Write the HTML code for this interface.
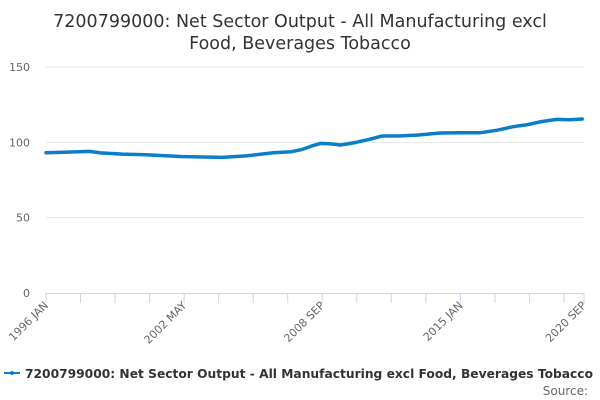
<!DOCTYPE html>
<html><head><meta charset="utf-8"><style>
body{margin:0;background:#fff;font-family:"DejaVu Sans","Liberation Sans",sans-serif;}
svg{display:block}
</style></head><body>
<svg id="c" width="600" height="400">
<text x="300" y="27" text-anchor="middle" font-size="17.5" fill="#333">7200799000: Net Sector Output - All Manufacturing excl</text>
<text x="300" y="49" text-anchor="middle" font-size="17.5" fill="#333">Food, Beverages Tobacco</text>
<g id="grid"></g><g id="xaxis"></g><g id="plot"></g>
<g>
<line x1="4" y1="373" x2="20" y2="373" stroke="#0a7ec8" stroke-width="2"/>
<circle cx="12" cy="373" r="2" fill="#0a7ec8"/>
<text x="25" y="378" font-size="12.5" font-weight="bold" fill="#333" textLength="568" lengthAdjust="spacingAndGlyphs">7200799000: Net Sector Output - All Manufacturing excl Food, Beverages Tobacco</text>
</g>
<text x="588" y="395" text-anchor="end" font-size="12" fill="#666">Source:</text>
</svg>
<script>
const monthIdx=[0,10,24,30,42,55,74,97,110,125,135,141,146,151,156,162,170,178,185,195,204,217,228,239,248,257,265,273,281,288,295];
const values=[93.1,93.4,94.0,93.0,92.2,91.8,90.6,90.0,91.0,93.1,93.8,95.3,97.5,99.3,99.0,98.2,99.8,102.0,104.2,104.3,104.8,106.2,106.4,106.4,108.0,110.4,111.8,113.8,115.2,115.0,115.5];
const yTicks=[0,50,100,150];
const xLabels=["1996 JAN","2002 MAY","2008 SEP","2015 JAN","2020 SEP"];
const xLabelIdx=[0,76,152,228,296];
const L=46,R=584,T=67,B=293,XMAX=296,YMAX=150;
const sx=i=>L+i/XMAX*(R-L), sy=v=>B-v/YMAX*(B-T);
const NS="http://www.w3.org/2000/svg";
function mk(t,a,p){const e=document.createElementNS(NS,t);for(const k in a)e.setAttribute(k,a[k]);p.appendChild(e);return e;}
const grid=document.getElementById('grid'),xa=document.getElementById('xaxis'),plot=document.getElementById('plot');
yTicks.forEach(v=>{
 if(v>0){const g=mk('line',{x1:L,x2:R,y1:sy(v),y2:sy(v),stroke:'#e6e6e6','stroke-width':1},grid);
 
 }
 const t=mk('text',{x:30,y:sy(v)+4,'text-anchor':'end','font-size':11,fill:'#666'},grid);t.textContent=v;
 
 
});
const ax=mk('line',{x1:L,x2:R,y1:B+0.5,y2:B+0.5,stroke:'#ccd6eb','stroke-width':1},xa);


const ticks=[];for(let i=0;i<=285;i+=19)ticks.push(i);ticks.push(296);
ticks.forEach(i=>{const tk=mk('line',{x1:sx(i),x2:sx(i),y1:B,y2:B+10,stroke:'#ccd6eb'},xa);
 
 });
xLabels.forEach((s,k)=>{const x=sx(xLabelIdx[k]),y=B+13;
 const t=mk('text',{x:x+3,y:y,'text-anchor':'end','font-size':11,fill:'#666',transform:`rotate(-45 ${x+3} ${y})`},xa);t.textContent=s;
 
 });
const d=monthIdx.map((m,k)=>(k?'L':'M')+sx(m).toFixed(1)+' '+sy(values[k]).toFixed(1)).join(' ');
const p=mk('path',{d:d,fill:'none',stroke:'#0a7ec8','stroke-width':3.5,'stroke-linejoin':'round','stroke-linecap':'round'},plot);


</script>
</body></html>
